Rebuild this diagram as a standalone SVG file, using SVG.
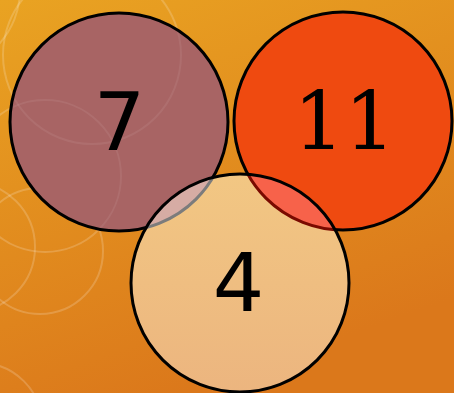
<svg xmlns="http://www.w3.org/2000/svg" width="454" height="393" viewBox="0 0 454 393">
<style>
.deco{fill:none;stroke:#fff;stroke-width:2;stroke-opacity:0.18}
.deco2{fill:none;stroke:#fff;stroke-width:2;stroke-opacity:0.07}
.ring{stroke:#000;stroke-width:3}
.sans{font-family:"DejaVu Sans",sans-serif;font-size:81px;fill:#000;text-anchor:middle}
.serif{font-family:"DejaVu Serif",serif;font-size:80px;fill:#000;text-anchor:middle}
</style>
<defs>
<linearGradient id="bg" x1="0" y1="0" x2="0.4" y2="1">
<stop offset="0" stop-color="#e9a322"/>
<stop offset="1" stop-color="#db781b"/>
</linearGradient>
<linearGradient id="g4" x1="0" y1="0" x2="0" y2="1">
<stop offset="0" stop-color="#f2c783"/>
<stop offset="1" stop-color="#ecb57f"/>
</linearGradient>
<clipPath id="c4"><circle cx="240" cy="283" r="109"/></clipPath>
<clipPath id="c7"><circle cx="119" cy="122" r="107"/></clipPath>
</defs>
<rect width="454" height="393" fill="url(#bg)"/>
<g id="decor">
<circle class="deco" cx="92" cy="55" r="89"/>
<circle class="deco" cx="45" cy="176" r="76"/>
<circle class="deco" cx="40" cy="251" r="63"/>
<circle class="deco" cx="-30" cy="247" r="65"/>
<circle class="deco" cx="-20" cy="425" r="62"/>
<circle class="deco" cx="-60" cy="-10" r="80"/>
</g>
<g id="node-7">
<circle class="ring" cx="119" cy="122" r="109" fill="#a86464"/>
<g clip-path="url(#c7)">
<circle class="deco2" cx="92" cy="55" r="89"/>
<circle class="deco2" cx="45" cy="176" r="76"/>
</g>
<text class="sans" x="119.5" y="150">7</text>
</g>
<g id="node-11">
<circle class="ring" cx="343" cy="121" r="109" fill="#ef4a10"/>
<text class="serif" x="344.5" y="149">11</text>
</g>
<g id="node-4">
<circle cx="240" cy="283" r="109" fill="url(#g4)"/>
<g clip-path="url(#c4)">
<circle cx="119" cy="122" r="109" fill="#d6aca4" stroke="#7c7c7c" stroke-width="3"/>
<circle cx="343" cy="121" r="109" fill="#f7624a" stroke="#7a0a00" stroke-width="3"/>
</g>
<circle class="ring" cx="240" cy="283" r="109" fill="none"/>
<text class="sans" x="238.5" y="311">4</text>
</g>
<g id="connectors"/>
</svg>
